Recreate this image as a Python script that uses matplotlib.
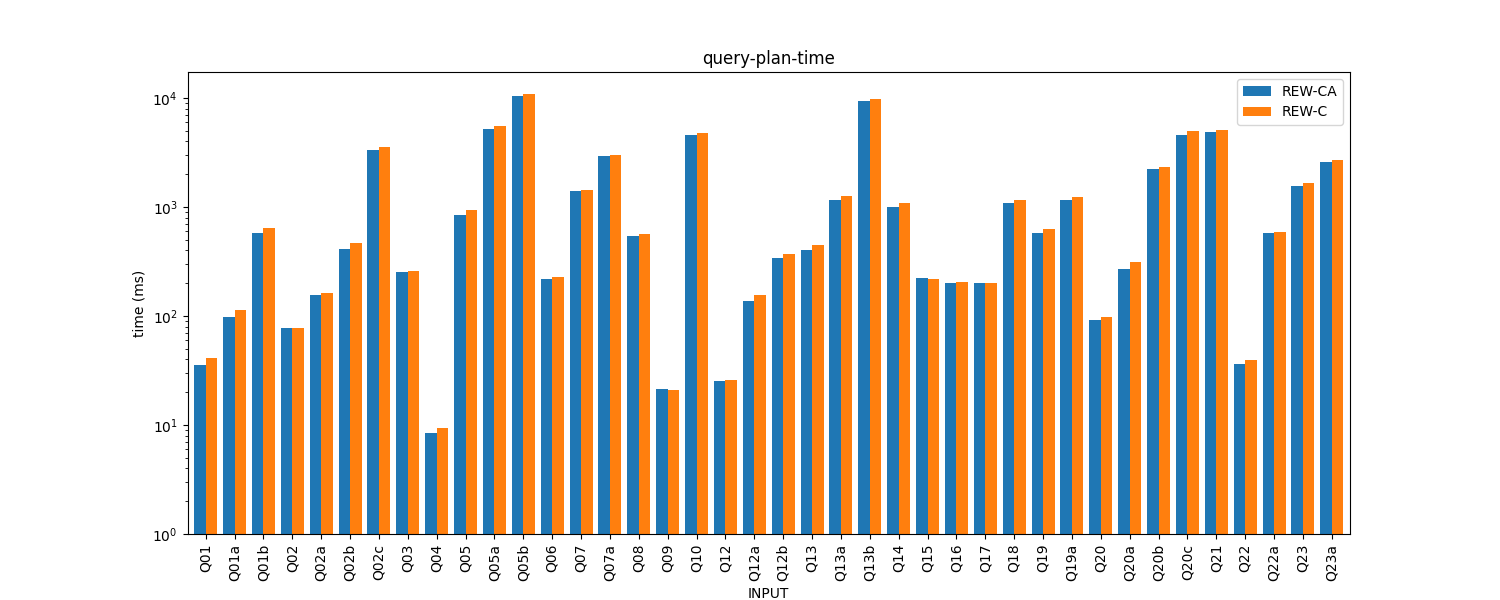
#!/usr/bin/env python3

import numpy as np
import matplotlib
matplotlib.use("Agg")
import matplotlib.pyplot as plt

# ==========================================================
# DATA
# ==========================================================

queries = [
    "Q01", "Q01a", "Q01b", "Q02", "Q02a", "Q02b", "Q02c", "Q03", "Q04", "Q05",
    "Q05a", "Q05b", "Q06", "Q07", "Q07a", "Q08", "Q09", "Q10", "Q12", "Q12a",
    "Q12b", "Q13", "Q13a", "Q13b", "Q14", "Q15", "Q16", "Q17", "Q18", "Q19",
    "Q19a", "Q20", "Q20a", "Q20b", "Q20c", "Q21", "Q22", "Q22a", "Q23", "Q23a",
]

rew_ca = [
    35.5, 98, 577, 77.6, 156, 412, 3335, 253, 8.45, 845,
    5200, 10430, 218, 1403, 2938, 542, 21.4, 4580, 25.3, 137,
    341, 403, 1159, 9380, 1000, 223, 201, 201, 1088, 577,
    1159, 91.9, 270, 2232, 4580, 4875, 36.3, 577, 1559, 2588,
]

rew_c = [
    41.2, 113.5, 642, 77.6, 163, 468, 3550, 259, 9.38, 938,
    5540, 10900, 228, 1432, 3000, 565, 20.9, 4780, 25.9, 156,
    370, 448, 1262, 9790, 1088, 218, 205, 201, 1159, 628,
    1236, 97.9, 313, 2328, 4980, 5085, 39.5, 590, 1660, 2700,
]

# ==========================================================
# PLOT
# ==========================================================

x = np.arange(len(queries))
w = 0.4

fig, ax = plt.subplots(figsize=(15, 6), dpi=100)

ax.bar(x - w/2, rew_ca, w, color="#1f77b4", label="REW-CA")
ax.bar(x + w/2, rew_c, w, color="#ff7f0e", label="REW-C")

ax.set_yscale("log")
ax.set_ylim(1, 10**4.238)
ax.set_xlim(-0.63, len(queries) - 1 + 0.63)

ax.set_xticks(x)
ax.set_xticklabels(queries, rotation=90)

ax.set_xlabel("INPUT")
ax.set_ylabel("time (ms)")
ax.set_title("query-plan-time")

ax.legend(loc="upper right")

plt.savefig("out.png", dpi=100)
